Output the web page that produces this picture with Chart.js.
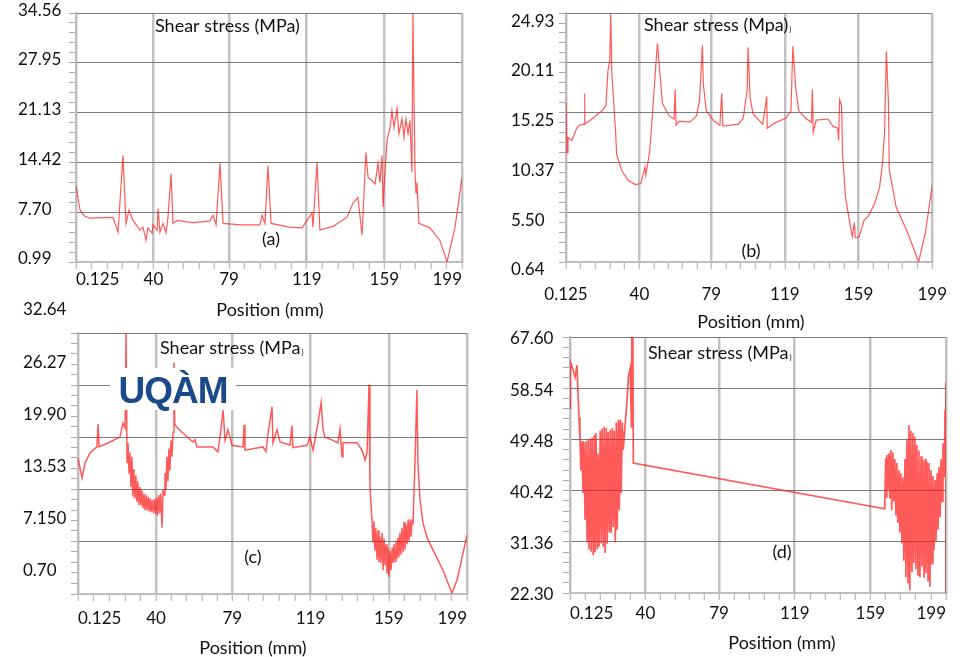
<!DOCTYPE html>
<html>
<head>
<meta charset="utf-8">
<title>Shear stress profiles</title>
<script src="https://cdn.jsdelivr.net/npm/chart.js@4.4.0/dist/chart.umd.min.js"></script>
<style>
    html, body { margin: 0; padding: 0; background: #ffffff; }
    #stage { position: relative; width: 964px; height: 657px; overflow: hidden; }
    .logo {
        position: absolute; left: 110px; top: 368px; width: 126px; height: 42px;
        background: #ffffff; color: #1a4a8a; z-index: 10;
        font: bold 37px "Liberation Sans", Arial, sans-serif; line-height: 46px;
        text-align: center; letter-spacing: -1px;
    }
</style>
</head>
<body>
<div id="stage">
    <div class="logo">UQÀM</div>
</div>
<script>
// Shear stress along the specimen, four cases (a) to (d)

const xTickLabels = ['0.125', '40', '79', '119', '159', '199'];

const yTickLabelsA = ['0.99', '7.70', '14.42', '21.13', '27.95', '34.56'];
const yTickLabelsB = ['0.64', '5.50', '10.37', '15.25', '20.11', '24.93'];
const yTickLabelsC = ['0.70', '7.150', '13.53', '19.90', '26.27', '32.64'];
const yTickLabelsD = ['22.30', '31.36', '40.42', '49.48', '58.54', '67.60'];

// (a)
const aPos = [0.125, 2.2, 4.5, 7.3, 19.2, 21.8, 24.3, 25.9, 27.4, 29.5,
    33.1, 34.6, 36.2, 37.2, 39.3, 39.8, 41.9, 42.4, 43.4, 44.9,
    46.5, 47.5, 49.1, 50.1, 52.2, 60, 69, 70.7, 72.3, 74.3,
    75.9, 85, 94.9, 96.0, 97.5, 99.0, 100.6, 110, 116.6, 121.7,
    122.2, 124.3, 125.8, 132.5, 139.7, 142.8, 145.4, 147.5, 149.5, 150.6,
    152.6, 154.2, 155.7, 156.7, 157.8, 158.3, 159.3, 160.4, 161.9, 162.9,
    164.0, 165.5, 166.5, 168.1, 169.1, 170.1, 171.2, 172.2, 173.2, 173.7,
    174.8, 175.3, 175.8, 176.8, 182.5, 187.6, 191.3, 195.4, 199];
const aStress = [11.3, 8.0, 7.2, 6.9, 7.0, 5.0, 15.4, 6.2, 8.0, 6.6,
    5.3, 5.7, 3.9, 5.6, 4.9, 6.0, 5.3, 8.2, 5.0, 6.2,
    4.9, 7.0, 12.9, 6.2, 6.6, 6.3, 6.5, 7.3, 6.0, 14.3,
    6.2, 6.0, 6.0, 7.3, 6.2, 14.0, 6.2, 5.7, 5.6, 7.6,
    5.7, 14.4, 5.3, 5.8, 7.0, 8.9, 9.7, 4.6, 15.8, 12.4,
    12.0, 11.5, 14.3, 11.7, 15.4, 8.4, 12.9, 17.4, 19.1, 21.4,
    19.1, 21.7, 18.3, 20.3, 17.8, 20.3, 18.3, 20.1, 13.1, 34.56,
    13.1, 10.3, 11.7, 6.2, 5.6, 3.9, 1.0, 5.7, 12.4];

// (b)
const bPos = [0.125, 0.7, 1.2, 3.3, 5.9, 7.5, 10.0, 10.2, 10.4, 12.8,
    19.7, 21.8, 22.9, 23.9, 24.4, 25.0, 25.3, 27.1, 27.6, 30.3,
    34.0, 37.7, 40.8, 43.0, 43.5, 45.6, 47.2, 48.8, 49.8, 50.9,
    52.5, 56.2, 58.8, 59.4, 59.9, 61.5, 67.3, 71.0, 72.6, 74.2,
    74.7, 76.3, 80.5, 83.7, 84.7, 85.3, 93.7, 96.4, 98.5, 99.0,
    100.1, 101.7, 107.0, 109.1, 109.4, 113.3, 119.6, 122.3, 123.3, 124.9,
    126.5, 130.7, 133.4, 133.9, 134.4, 136.0, 142.4, 145.0, 147.7, 148.2,
    148.7, 149.8, 150.3, 151.9, 154.0, 155.6, 156.7, 157.2, 159.3, 162.0,
    164.6, 167.8, 170.4, 172.0, 173.1, 174.1, 175.2, 175.7, 177.8, 179.4,
    185.7, 191.6, 195.3, 199];
const bStress = [16.2, 11.3, 12.8, 12.5, 13.7, 14.0, 14.1, 17.1, 14.1, 14.4,
    15.4, 15.9, 19.3, 20.3, 24.93, 19.3, 18.3, 13.2, 11.2, 9.6,
    8.6, 8.2, 8.3, 9.9, 9.1, 11.5, 15.4, 19.6, 22.0, 19.6,
    16.1, 14.9, 14.6, 17.5, 14.0, 14.4, 14.3, 14.9, 16.4, 21.8,
    18.0, 15.4, 14.4, 14.0, 17.1, 13.9, 14.1, 14.7, 17.4, 21.6,
    16.7, 15.1, 14.1, 16.8, 13.7, 14.2, 14.7, 15.4, 21.7, 17.6,
    15.4, 14.6, 14.3, 17.5, 13.3, 14.5, 14.6, 13.9, 13.7, 12.5,
    16.5, 15.9, 11.2, 7.0, 4.7, 3.1, 4.5, 3.0, 3.1, 4.7,
    5.2, 6.4, 7.9, 10.3, 13.2, 21.2, 16.4, 9.6, 7.6, 6.0,
    3.5, 0.64, 3.5, 8.1];

// (c)
const cPos = [0.125, 2.2, 3.7, 6.3, 9.8, 10.4, 10.9, 16.5, 21.6, 23.1,
    24.2, 24.7, 25.2,
    25.7, 26.2, 26.7, 27.2, 27.7, 28.2, 28.7, 29.2, 29.7, 30.2,
    30.7, 31.2, 31.8, 32.3, 32.8, 33.4, 33.9, 34.4, 35.0, 35.5,
    36.0, 36.6, 37.1, 37.6, 38.2, 38.7, 39.2, 39.8, 40.3, 40.8,
    41.4, 41.9, 42.4, 43.1, 43.6, 44.1, 44.6, 45.1, 45.6, 46.1,
    46.6, 47.1, 47.7, 48.2, 48.7,
    49.2, 49.6, 50.7, 53.3, 58.9, 59.9, 61.0, 69.1, 71.7, 73.2,
    74.3, 75.3, 76.8, 78.9, 84.5, 85.0, 85.5, 94.7, 96.2, 97.3,
    99.3, 99.8, 101.9, 103.4, 108.5, 109.5, 110.0, 117.2, 118.7, 120.3,
    122.8, 124.4, 125.4, 126.4, 130.5, 133.0, 134.1, 135.1, 135.6, 142.8,
    145.3, 146.9, 147.9, 148.9, 149.4,
    150.4, 150.9, 151.4, 151.9, 152.4, 153.0, 153.5, 154.0, 154.5, 155.0,
    155.6, 156.1, 156.6, 157.1, 157.6, 158.1, 158.6, 159.1, 159.6, 160.2,
    160.7, 161.2, 161.7, 162.2, 162.7, 163.2, 163.7, 164.2, 164.7, 165.2,
    165.7, 166.3, 166.8, 167.3, 167.8, 168.4, 168.9, 169.4, 169.9, 170.4,
    170.9, 171.4,
    172.4, 173.4, 173.9, 175.0, 176.5, 178.6, 186.7, 191.3, 193.9, 199];
const cStress = [17.3, 14.9, 16.7, 18.0, 18.7, 21.5, 18.7, 19.3, 19.9, 21.6,
    21.0, 32.64, 16.7,
    19.2, 15.5, 18.0, 13.8, 17.5, 12.6, 16.0, 12.4, 15.2, 12.0,
    14.5, 11.6, 13.8, 11.5, 13.4, 11.2, 13.0, 11.0, 12.8, 10.9,
    12.6, 10.8, 12.4, 10.7, 12.2, 10.6, 12.3, 10.5, 12.5, 10.3,
    12.8, 10.6, 13.0, 8.8, 13.5, 12.8, 15.5, 13.4, 17.5, 14.5,
    18.5, 15.8, 19.5, 17.5, 20.5,
    29.0, 21.5, 21.1, 20.5, 19.3, 19.6, 18.7, 18.7, 18.1, 20.8,
    23.2, 19.5, 20.8, 18.9, 18.7, 21.4, 18.3, 18.7, 18.1, 20.4,
    23.6, 19.2, 20.8, 19.3, 18.9, 21.3, 18.6, 18.9, 19.9, 18.3,
    21.6, 24.1, 20.8, 19.9, 19.5, 19.2, 20.9, 17.5, 19.2, 19.2,
    18.3, 17.1, 18.0, 26.3, 13.8,
    9.8, 7.0, 9.6, 6.0, 8.8, 4.9, 8.5, 4.6, 7.7, 4.5,
    8.2, 3.6, 7.5, 4.2, 6.8, 3.2, 6.4, 2.8, 6.0, 3.6,
    6.4, 4.5, 6.8, 4.7, 7.2, 5.0, 7.6, 5.2, 8.2, 5.5,
    8.8, 5.8, 9.5, 6.1, 9.2, 6.8, 9.8, 7.2, 9.8, 7.7,
    9.6, 9.4,
    16.7, 25.7, 16.7, 12.2, 9.4, 7.6, 3.6, 0.8, 2.4, 7.9];

// (d)
const dPos = [0.125, 0.3, 1.7, 2.8, 3.8, 4.4, 4.9,
    5.4, 5.9, 6.5, 7.0, 7.5, 8.1, 8.6, 9.2, 9.7, 10.2,
    10.8, 11.3, 11.8, 12.4, 12.9, 13.4, 13.9, 14.5, 15.0, 15.5,
    16.1, 16.6, 17.1, 17.7, 18.2, 18.7, 19.3, 19.8, 20.3, 20.9,
    21.4, 21.9, 22.5, 23.0, 23.5, 24.1, 24.6, 25.1, 25.7, 26.2,
    26.7, 27.2, 27.8, 28.3, 30.4, 31.0, 32.0, 32.6, 32.8, 33.4, 33.6,
    166.6, 167.1, 167.4, 167.7, 168.2, 168.8, 169.3, 169.8, 170.3, 170.9,
    171.4, 171.9, 172.5, 173.0, 173.5, 174.1, 174.6, 175.1, 175.7, 176.2,
    176.7, 177.3, 177.8, 178.3, 178.9, 179.4, 179.9, 180.4, 181.0, 181.5,
    182.0, 182.6, 183.1, 183.6, 184.2, 184.7, 185.2, 185.8, 186.3, 186.8,
    187.4, 187.9, 188.4, 189.0, 189.5, 190.0, 190.5, 191.1, 191.6, 192.1,
    192.7, 193.2, 193.7, 194.3, 194.8, 195.3, 195.9, 196.4, 196.9, 197.4,
    198.0, 198.5, 198.8, 199.0, 199.0];
const dStress = [55.0, 63.2, 61.8, 60.5, 62.6, 57.3, 53.3,
    49.4, 44.0, 49.2, 40.0, 49.0, 35.2, 49.2, 31.3, 49.5, 30.0,
    49.6, 29.6, 49.8, 29.0, 50.2, 29.5, 50.6, 30.0, 47.0, 30.5,
    51.0, 31.1, 51.4, 30.5, 51.7, 29.4, 51.5, 31.0, 50.8, 33.0,
    51.2, 32.9, 51.5, 34.0, 51.0, 31.3, 52.5, 33.5, 52.9, 37.0,
    53.0, 40.0, 52.5, 47.6, 57.0, 60.5, 62.1, 51.7, 67.6, 67.6, 45.3,
    37.2, 46.2, 39.3, 46.7, 40.5, 47.0, 39.0, 47.6, 37.0, 47.2,
    38.5, 46.0, 36.0, 45.3, 34.7, 44.0, 33.0, 43.5, 31.1, 42.8,
    28.0, 46.0, 25.1, 49.4, 24.0, 52.0, 22.8, 51.0, 26.0, 50.6,
    27.6, 50.0, 26.5, 48.5, 25.5, 47.5, 25.1, 46.5, 27.0, 45.8,
    25.0, 46.0, 25.8, 45.5, 24.5, 45.3, 23.4, 44.0, 27.5, 43.0,
    29.9, 42.3, 31.5, 43.5, 33.5, 44.6, 35.7, 46.0, 38.5, 48.8,
    42.8, 54.7, 46.0, 59.6, 22.3];

const lineColor = 'rgba(255, 20, 20, 0.7)';
const textColor = '#111111';
const fontFamily = 'Lato, "Open Sans", sans-serif';

// Draws the free text of each panel (inner title, panel letter, axis title)
const notesPlugin = {
    id: 'notes',
    afterDraw(chart, args, opts) {
        const ctx = chart.ctx;
        ctx.save();
        ctx.fillStyle = textColor;
        ctx.textBaseline = 'middle';
        (opts.items || []).forEach(item => {
            ctx.font = (item.size || 18) + 'px ' + fontFamily;
            ctx.textAlign = item.align || 'center';
            ctx.fillText(item.text, item.x, item.y);
            if (item.tail) {
                const w = ctx.measureText(item.text).width;
                ctx.font = '8px ' + fontFamily;
                ctx.textAlign = 'left';
                ctx.fillText(item.tail, item.x + w + 1, item.y + 4);
            }
        });
        ctx.restore();
    }
};

// Major values with 4 minor tick marks between each pair
function withMinors(values, minors) {
    const out = [];
    for (let i = 0; i < values.length; i++) {
        out.push(values[i]);
        if (i < values.length - 1) {
            const step = (values[i + 1] - values[i]) / (minors + 1);
            for (let k = 1; k <= minors; k++) out.push(values[i] + step * k);
        }
    }
    return out;
}

const panels = [
    {
        left: 0, top: 0, width: 480, height: 330,
        pad: { left: 18, top: 12, right: 18, bottom: 0 }, yw: 58, xh: 68,
        yOffset: -3, xPad: 0, xAlign: 'inner', lineWidth: 1.2,
        pos: aPos, stress: aStress, yLabels: yTickLabelsA,
        notes: [
            { text: 'Shear stress (MPa)', x: 155, y: 26, align: 'left' },
            { text: '(a)', x: 271, y: 239 },
            { text: 'Position (mm)', x: 270, y: 310 }
        ]
    },
    {
        left: 480, top: 0, width: 482, height: 335,
        pad: { left: 31, top: 12, right: 20, bottom: 0 }, yw: 55, xh: 73,
        yOffset: 8, xPad: 15, xAlign: 'center', lineWidth: 1.2,
        pos: bPos, stress: bStress, yLabels: yTickLabelsB,
        notes: [
            { text: 'Shear stress (Mpa)', x: 164, y: 25, align: 'left', tail: ')' },
            { text: '(b)', x: 271, y: 251 },
            { text: 'Position (mm)', x: 271, y: 322 }
        ]
    },
    {
        left: 0, top: 295, width: 484, height: 362,
        pad: { left: 23, top: 38, right: 17, bottom: 0 }, yw: 55, xh: 63,
        yOffset: -23, xPad: 7, xAlign: 'inner', lineWidth: 1.5,
        pos: cPos, stress: cStress, yLabels: yTickLabelsC,
        notes: [
            { text: 'Shear stress (MPa', x: 160, y: 53, align: 'left', tail: ')' },
            { text: '(c)', x: 253, y: 262 },
            { text: 'Position (mm)', x: 253, y: 353 }
        ]
    },
    {
        left: 480, top: 317, width: 482, height: 340,
        pad: { left: 30, top: 20, right: 16, bottom: 0 }, yw: 60, xh: 64,
        yOffset: 2, xPad: 3, xAlign: 'inner', lineWidth: 1.7,
        pos: dPos, stress: dStress, yLabels: yTickLabelsD,
        notes: [
            { text: 'Shear stress (MPa', x: 168, y: 36, align: 'left', tail: ')' },
            { text: '(d)', x: 302, y: 235 },
            { text: 'Position (mm)', x: 302, y: 326 }
        ]
    }
];

function makeChart(p) {
    const canvas = document.createElement('canvas');
    canvas.width = p.width;
    canvas.height = p.height;
    canvas.style.cssText = 'position:absolute;left:' + p.left + 'px;top:' + p.top +
        'px;width:' + p.width + 'px;height:' + p.height + 'px;';
    document.getElementById('stage').appendChild(canvas);

    const xVals = withMinors(xTickLabels.map(Number), 4);
    const yVals = withMinors(p.yLabels.map(Number), 4);
    const n = Math.min(p.pos.length, p.stress.length);
    const points = [];
    for (let i = 0; i < n; i++) points.push({ x: p.pos[i], y: p.stress[i] });

    return new Chart(canvas, {
        type: 'line',
        data: {
            datasets: [{
                data: points,
                borderColor: lineColor,
                borderWidth: p.lineWidth,
                pointRadius: 0,
                tension: 0,
                fill: false
            }]
        },
        options: {
            responsive: false,
            animation: false,
            devicePixelRatio: 1,
            layout: { padding: p.pad },
            plugins: {
                legend: { display: false },
                tooltip: { enabled: false },
                notes: { items: p.notes }
            },
            scales: {
                x: {
                    type: 'linear',
                    min: xVals[0],
                    max: xVals[xVals.length - 1],
                    afterBuildTicks: s => { s.ticks = xVals.map(v => ({ value: v })); },
                    afterFit: s => { s.height = p.xh; },
                    grid: {
                        color: c => c.index % 5 === 0 ? '#c2c2c2' : 'rgba(0,0,0,0)',
                        lineWidth: 2.5,
                        tickColor: '#a8a8a8',
                        tickWidth: 1,
                        tickLength: 7
                    },
                    border: { color: '#bdbdbd', width: 2 },
                    ticks: {
                        autoSkip: false,
                        maxRotation: 0,
                        minRotation: 0,
                        align: p.xAlign,
                        padding: p.xPad,
                        color: textColor,
                        font: { family: fontFamily, size: 17 },
                        callback: (value, index) => index % 5 === 0 ? xTickLabels[index / 5] : ''
                    }
                },
                y: {
                    type: 'linear',
                    min: yVals[0],
                    max: yVals[yVals.length - 1],
                    afterBuildTicks: s => { s.ticks = yVals.map(v => ({ value: v })); },
                    afterFit: s => { s.width = p.yw; },
                    grid: {
                        color: c => c.index % 5 === 0 ? '#7d7d7d' : 'rgba(0,0,0,0)',
                        lineWidth: 1,
                        tickColor: '#a8a8a8',
                        tickWidth: 1,
                        tickLength: 7
                    },
                    border: { color: '#bdbdbd', width: 2 },
                    ticks: {
                        autoSkip: false,
                        crossAlign: 'far',
                        labelOffset: p.yOffset,
                        color: textColor,
                        font: { family: fontFamily, size: 17 },
                        callback: (value, index) => index % 5 === 0 ? p.yLabels[index / 5] : ''
                    }
                }
            }
        },
        plugins: [notesPlugin]
    });
}

panels.forEach(makeChart);
</script>
</body>
</html>
